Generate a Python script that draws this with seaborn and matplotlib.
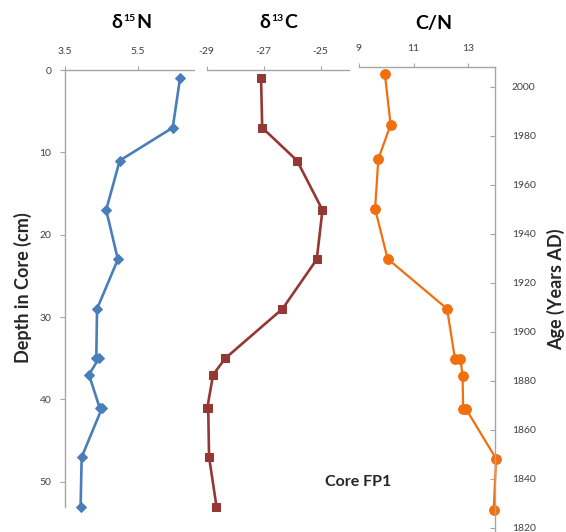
import numpy as np
import pandas as pd
import matplotlib
matplotlib.use("Agg")
import matplotlib.pyplot as plt
import seaborn as sns

# ---- data ----
depth_cm = [1, 7, 11, 17, 23, 29, 35, 35, 37, 41, 41, 47, 53]
d15n = [6.66, 6.46, 5.01, 4.64, 4.96, 4.39, 4.37, 4.44, 4.17, 4.46, 4.53, 3.97, 3.94]
d13c = [-27.09, -27.05, -25.83, -24.94, -25.14, -26.34, -28.34, -28.34, -28.77,
        -28.97, -28.94, -28.91, -28.65]
age_ad = [2005, 1984.4, 1970.5, 1950.1, 1929.7, 1909.3, 1888.9, 1888.9, 1882.0,
          1868.5, 1868.5, 1848.1, 1827.3]
cn_ratio = [9.95, 10.16, 9.71, 9.59, 10.05, 12.23, 12.52, 12.72, 12.80, 12.82,
            12.92, 14.03, 13.94]

n_ticks = [3.5, 5.5]
c_ticks = [-29, -27, -25]
cn_ticks = [9, 11, 13]
depth_ticks = [0, 10, 20, 30, 40, 50]
age_ticks = [1820, 1840, 1860, 1880, 1900, 1920, 1940, 1960, 1980, 2000]

sns.set_style("white")
plt.rcParams["font.family"] = ["Lato", "DejaVu Sans"]
plt.rcParams["axes.unicode_minus"] = False

W, H = 566, 532
fig = plt.figure(figsize=(W / 100, H / 100), dpi=100)


def rect(l, r, t, b):
    return [l / W, 1 - b / H, (r - l) / W, (b - t) / H]


spine_col = "#A6A6A6"
tick_col = "#404040"
blue = "#4A7EBB"
red = "#953735"
orange = "#F26F0F"

df_n = pd.DataFrame({"v": d15n, "d": depth_cm})
df_c = pd.DataFrame({"v": d13c, "d": depth_cm})
df_cn = pd.DataFrame({"v": cn_ratio, "a": age_ad})


def style_top(ax, ticks, xlim):
    ax.xaxis.tick_top()
    ax.set_xlim(*xlim)
    ax.set_xticks(ticks)
    ax.set_xticklabels([f"{t:g}" for t in ticks])
    ax.tick_params(axis="x", direction="out", length=3, width=0.8, color=spine_col,
                   labelsize=7.5, labelcolor=tick_col, pad=7, top=True, bottom=False)
    ax.set_xlabel("")
    ax.set_ylabel("")
    for s in ["bottom", "left", "right", "top"]:
        ax.spines[s].set_visible(False)
    ax.spines["top"].set_visible(True)
    ax.spines["top"].set_color(spine_col)
    ax.spines["top"].set_linewidth(1.0)
    ax.set_facecolor("none")


# Panel 1: d15N
ax1 = fig.add_axes(rect(64.5, 194.3, 70, 506.5))
sns.lineplot(data=df_n, x="v", y="d", sort=False, estimator=None, ax=ax1,
             color=blue, linewidth=1.9, marker="D", markersize=5.5,
             markeredgecolor=blue, clip_on=False)
style_top(ax1, n_ticks, (3.5, 7.05))
ax1.set_ylim(53, 0)
ax1.set_yticks(depth_ticks)
ax1.spines["left"].set_visible(True)
ax1.spines["left"].set_color(spine_col)
ax1.spines["left"].set_linewidth(1.0)
ax1.tick_params(axis="y", direction="out", length=3.5, width=0.8, color=spine_col,
                labelsize=7.5, labelcolor=tick_col, pad=6, left=True)

# Panel 2: d13C
ax2 = fig.add_axes(rect(206.5, 349.3, 70, 506.5))
sns.lineplot(data=df_c, x="v", y="d", sort=False, estimator=None, ax=ax2,
             color=red, linewidth=1.9, marker="s", markersize=6.2,
             markeredgecolor=red, clip_on=False)
style_top(ax2, c_ticks, (-29, -24))
ax2.set_ylim(53, 0)
ax2.set_yticks([])

# Panel 3: C/N vs age
ax3 = fig.add_axes(rect(359, 495.3, 66.5, 532))
sns.lineplot(data=df_cn, x="v", y="a", sort=False, estimator=None, ax=ax3,
             color=orange, linewidth=1.6, marker="o", markersize=7,
             markeredgecolor=orange, clip_on=False)
style_top(ax3, cn_ticks, (9, 14))
ax3.set_ylim(1818.2, 2008.2)
ax3.yaxis.tick_right()
ax3.set_yticks(age_ticks)
ax3.spines["right"].set_visible(True)
ax3.spines["right"].set_color(spine_col)
ax3.spines["right"].set_linewidth(1.0)
ax3.tick_params(axis="y", direction="in", length=3.5, width=0.8, color=spine_col,
                labelsize=7.5, labelcolor=tick_col, pad=12, right=True, left=False)

# Titles built from pieces so the superscript is small, as in the reference
renderer = fig.canvas.get_renderer()
base_px = 28.5
sup_px = 20.8


def piece_title(center_x, parts):
    """parts: list of (text, fontsize, is_sup, gap_after_px)"""
    texts = []
    widths = []
    for txt, fs, sup, gap in parts:
        y = 1 - (sup_px if sup else base_px) / H
        t = fig.text(0, y, txt, fontsize=fs, fontweight="bold", color="black",
                     va="baseline", ha="left")
        w = t.get_window_extent(renderer).width
        texts.append((t, gap))
        widths.append(w + gap)
    total = sum(widths) - texts[-1][1]
    x = center_x - total / 2
    for (t, gap), w in zip(texts, widths):
        t.set_x(x / W)
        x += w


piece_title(131.5, [("δ", 14, False, 0.8), ("15", 7.5, True, 0.8), ("N", 14, False, 0)])
piece_title(278, [("δ", 14, False, 0.8), ("13", 7.5, True, 0.8), ("C", 14, False, 0)])
fig.text(433.5 / W, 1 - base_px / H, "C/N", fontsize=14, fontweight="bold",
         color="black", va="baseline", ha="center")

fig.text(23 / W, 1 - 288 / H, "Depth in Core (cm)", rotation=90, ha="center",
         va="center", fontsize=13, fontweight="bold")
fig.text(556 / W, 1 - 289 / H, "Age (Years AD)", rotation=90, ha="center",
         va="center", fontsize=13, fontweight="bold")
fig.text(358 / W, 1 - 482 / H, "Core FP1", ha="center", va="center",
         fontsize=11.5, fontweight="bold")

fig.savefig("out.png", dpi=100, facecolor="white")
